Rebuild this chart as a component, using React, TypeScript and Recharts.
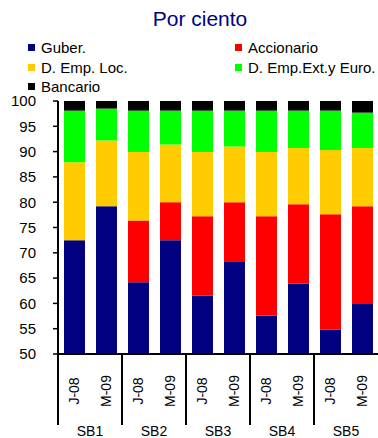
import { BarChart, Bar, XAxis, YAxis } from "recharts";

const periods = ["J-08", "M-09", "J-08", "M-09", "J-08", "M-09", "J-08", "M-09", "J-08", "M-09"];
const groups = ["SB1", "SB2", "SB3", "SB4", "SB5"];
const guber = [72.5, 79.2, 64.2, 72.5, 61.5, 68.2, 57.6, 63.9, 54.8, 59.9];
const accionario = [0, 0, 12.2, 7.5, 15.7, 11.8, 19.6, 15.7, 22.8, 19.3];
const empLoc = [15.4, 13.0, 13.5, 11.4, 12.7, 11.0, 12.7, 11.1, 12.7, 11.5];
const empExt = [10.2, 6.3, 8.2, 6.7, 8.2, 7.1, 8.2, 7.4, 7.8, 7.0];
const bancario = [1.9, 1.5, 1.9, 1.9, 1.9, 1.9, 1.9, 1.9, 1.9, 2.3];
const yTicks = [50, 55, 60, 65, 70, 75, 80, 85, 90, 95, 100];

const series = [
  { key: "guber", name: "Guber.", color: "#000080" },
  { key: "accionario", name: "Accionario", color: "#FF0000" },
  { key: "empLoc", name: "D. Emp. Loc.", color: "#FFCC00" },
  { key: "empExt", name: "D. Emp.Ext.y Euro.", color: "#00FF00" },
  { key: "bancario", name: "Bancario", color: "#000000" },
];

const data = periods.map((p, i) => ({
  id: i,
  period: p,
  guber: guber[i],
  accionario: accionario[i],
  empLoc: empLoc[i],
  empExt: empExt[i],
  bancario: bancario[i],
}));

const font = "'Liberation Sans', Arial, sans-serif";
const BAND = 32;

function PeriodTick(props: any) {
  const { x, y, payload, index } = props;
  const label = periods[payload.value] ?? "";
  return (
    <g>
      <text
        transform={`translate(${x},${y + 37}) rotate(-90)`}
        textAnchor="middle"
        dominantBaseline="central"
        fontSize={14}
        fontFamily={font}
        fill="#000"
      >
        {label}
      </text>
      {index % 2 === 0 && (
        <g>
          <line x1={x - BAND / 2} x2={x - BAND / 2} y1={y} y2={y + 71} stroke="#000" strokeWidth={2} />
          <text
            x={x + BAND / 2}
            y={y + 82}
            textAnchor="middle"
            fontSize={14}
            fontFamily={font}
            fill="#000"
          >
            {groups[index / 2]}
          </text>
        </g>
      )}
    </g>
  );
}

export default function App() {
  return (
    <div style={{ position: "absolute", left: 0, top: 0, width: 378, height: 438, background: "#fff", overflow: "hidden", fontFamily: font }}>
      <div style={{ position: "absolute", left: 0, width: 400, top: 7, textAlign: "center", fontSize: 21, color: "#000080" }}>
        Por ciento
      </div>
      {series.map((s, i) => {
        const col = i % 2;
        const row = Math.floor(i / 2);
        return (
          <div
            key={s.key}
            style={{ position: "absolute", left: col === 0 ? 28 : 235, top: 39 + row * 19.5, fontSize: 15, color: "#000", display: "flex", alignItems: "center", whiteSpace: "nowrap" }}
          >
            <span style={{ display: "inline-block", width: 7, height: 7, background: s.color, marginRight: 6 }} />
            {s.name}
          </div>
        );
      })}
      <div style={{ position: "absolute", left: 0, top: 0 }}>
        <BarChart width={378} height={438} data={data} margin={{ top: 101, right: 0, bottom: 0, left: 8 }} barSize={21}>
          <XAxis
            dataKey="id"
            height={84}
            interval={0}
            tickLine={false}
            tickSize={0}
            tickMargin={0}
            axisLine={{ stroke: "#000", strokeWidth: 2 }}
            tick={<PeriodTick />}
          />
          <YAxis
            type="number"
            domain={[50, 100]}
            ticks={yTicks}
            allowDataOverflow
            width={50}
            interval={0}
            tickSize={5}
            tickMargin={17}
            axisLine={{ stroke: "#000", strokeWidth: 2 }}
            tickLine={{ stroke: "#000", strokeWidth: 1.5 }}
            tick={{ fill: "#000", fontSize: 15, fontFamily: font }}
          />
          {series.map((s) => (
            <Bar key={s.key} dataKey={s.key} name={s.name} stackId="a" fill={s.color} isAnimationActive={false} />
          ))}
        </BarChart>
      </div>
    </div>
  );
}
